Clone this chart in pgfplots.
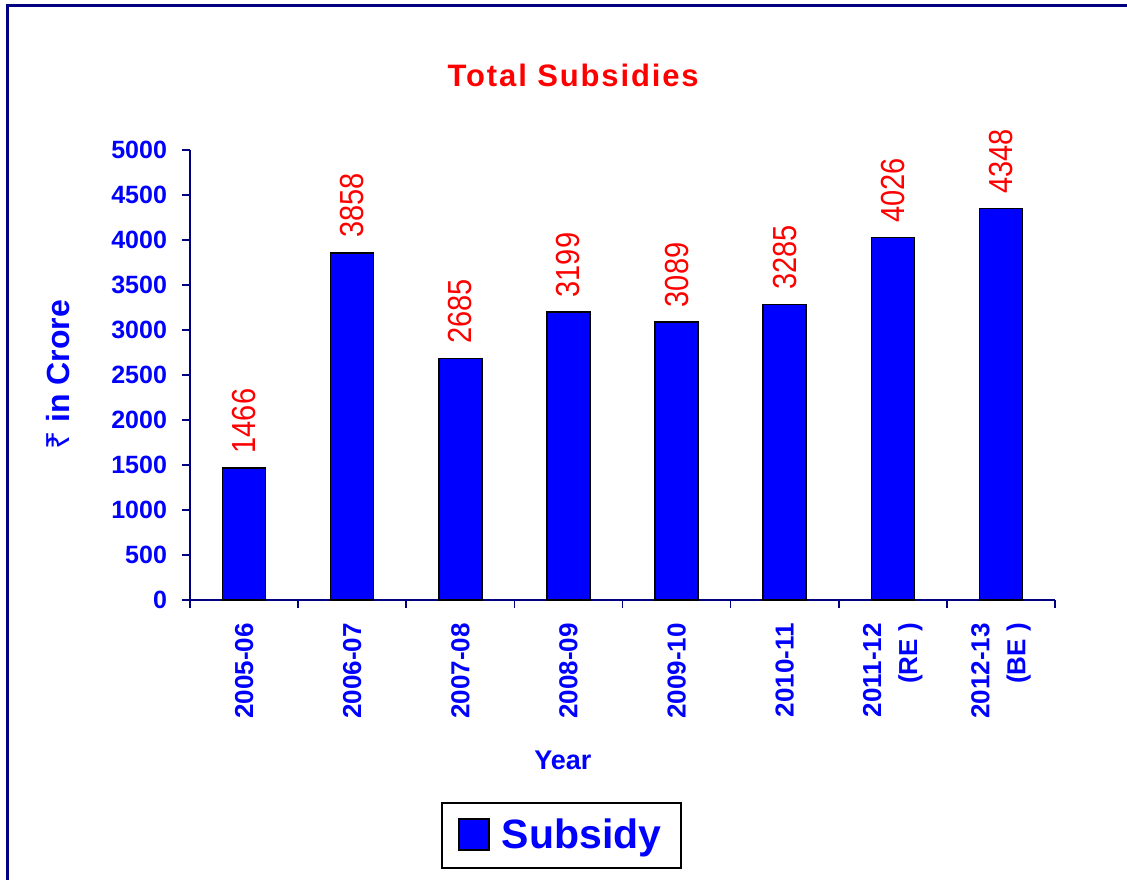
\documentclass[border=0pt]{standalone}
\usepackage{fontspec}
\setmainfont{Liberation Sans}
\newfontfamily\rupeefont{Noto Sans}
\usepackage{graphicx}
\usepackage{pgfplots}
\pgfplotsset{compat=1.18}
\definecolor{navyf}{RGB}{0,0,128}
\definecolor{tblue}{RGB}{0,0,255}
\definecolor{tred}{RGB}{255,0,0}
\begin{document}
\begin{tikzpicture}
\useasboundingbox (-95pt,-139.5pt) rectangle (468.5pt,300pt);
\draw[navyf, line width=1.5pt] (-91pt,-160pt) -- (-91pt,297pt) -- (490pt,297pt);
\begin{axis}[
  width=432.5pt, height=225pt, scale only axis,
  at={(0,0)}, anchor=south west,
  clip=false,
  ybar, bar width=21.5pt,
  xmin=-0.5, xmax=7.5, ymin=0, ymax=5000,
  enlarge x limits=false, enlarge y limits=false,
  axis x line*=bottom, axis y line*=left,
  axis line style={navyf, line width=0.8pt, -},
  tick align=outside,
  tick style={navyf, line width=0.8pt},
  major tick length=4pt, minor tick length=4pt,
  xtick={0,...,7},
  major x tick style={draw=none},
  minor xtick={-0.5,0.5,...,7.5},
  ytick={0,500,...,5000},
  /pgf/number format/assume math mode=true,
  /pgf/number format/1000 sep={},
  yticklabel style={font=\fontsize{12.5}{14}\selectfont\bfseries, text=tblue},
  yticklabel shift=4pt,
  xticklabels={2005-06,2006-07,2007-08,2008-09,2009-10,2010-11,{2011-12\\(RE )},{2012-13\\(BE )}},
  xticklabel style={font=\fontsize{13}{18}\selectfont\bfseries, text=tblue, rotate=90, anchor=east, align=right},
  xticklabel shift=4pt,
  nodes near coords={\scalebox{1}[1.15]{\pgfmathprintnumber{\pgfplotspointmeta}}},
  nodes near coords style={rotate=90, anchor=west, text=tred, font=\fontsize{14.5}{16}\selectfont, inner xsep=7pt},
  title={\addfontfeatures{LetterSpace=6}Total Subsidies},
  title style={at={(0.443,1.138)}, anchor=center, font=\fontsize{15.5}{18}\selectfont\bfseries, text=tred},
  ylabel={{\rupeefont\bfseries ₹} in Crore},
  ylabel style={at={(axis description cs:-0.1526,0.5)}, anchor=center, font=\fontsize{16}{19}\selectfont\bfseries, text=tblue},
  xlabel={Year},
  xlabel style={at={(axis description cs:0.431,-0.3556)}, anchor=center, font=\fontsize{13.5}{16}\selectfont\bfseries, text=tblue},
  legend style={at={(0.4295,-0.5233)}, anchor=center, draw=black, line width=1pt,
    font=\fontsize{20.5}{24}\selectfont\bfseries, text=tblue, inner xsep=8pt, inner ysep=6pt,
    /tikz/every odd column/.append style={column sep=4pt}},
  legend image code/.code={\draw[fill=tblue, draw=black, line width=1pt] (0pt,-7.5pt) rectangle (15pt,8pt);},
]
\addplot[fill=tblue, draw=black, line width=0.8pt] coordinates {
  (0,1466) (1,3858) (2,2685) (3,3199) (4,3089) (5,3285) (6,4026) (7,4348)
};
\addlegendentry{Subsidy}
\end{axis}
\end{tikzpicture}
\end{document}
